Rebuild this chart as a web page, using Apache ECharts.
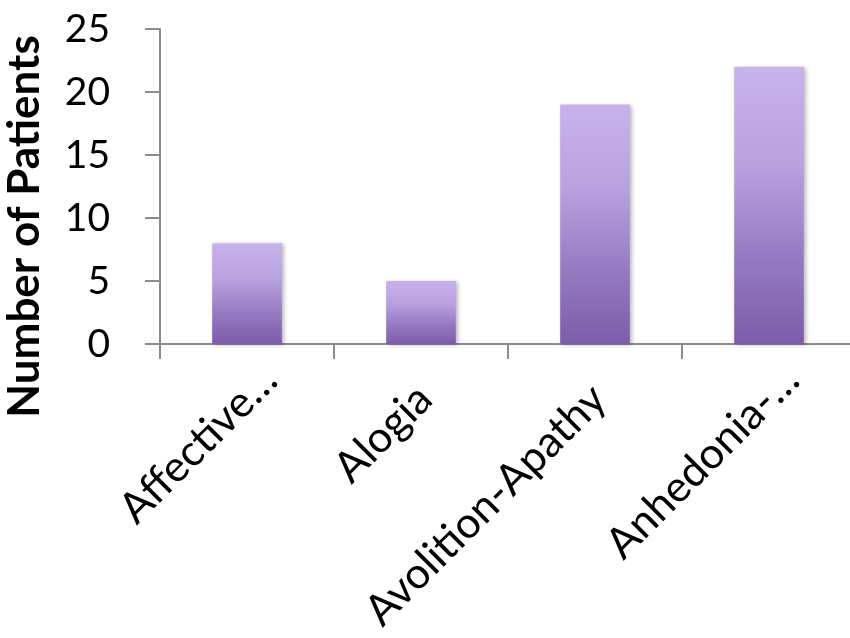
<!DOCTYPE html>
<html>
<head>
<meta charset="utf-8">
<script src="https://cdn.jsdelivr.net/npm/echarts@6/dist/echarts.min.js"></script>
<style>
  html, body { margin: 0; padding: 0; background: #fff; }
  #chart { width: 850px; height: 638px; }
</style>
</head>
<body>
<div id="chart"></div>
<script>
// Negative-symptom domains and how many patients showed each
const categories = ['Affective…', 'Alogia', 'Avolition-Apathy', 'Anhedonia-…'];
const patients = [8, 5, 19, 22];
const yMin = 0;
const yMax = 25;
const yStep = 5;

const axisGray = '#8c8c8c';
const fontFamily = 'Lato, "Open Sans", sans-serif';

const barGradient = new echarts.graphic.LinearGradient(0, 0, 0, 1, [
  { offset: 0, color: '#c8b2ec' },
  { offset: 0.35, color: '#b9a1e0' },
  { offset: 0.7, color: '#9479c1' },
  { offset: 1, color: '#7d5ca9' }
]);

const chart = echarts.init(document.getElementById('chart'), null, { renderer: 'canvas' });

chart.setOption({
  animation: false,
  backgroundColor: '#ffffff',
  grid: {
    left: 160, top: 29, width: 696, bottom: 294,
    containLabel: false,
    outerBoundsMode: 'none'
  },
  xAxis: {
    type: 'category',
    data: categories,
    axisLine: { show: true, lineStyle: { color: axisGray, width: 2 } },
    axisTick: { show: true, alignWithLabel: false, length: 15, lineStyle: { color: axisGray, width: 2 } },
    splitLine: { show: false },
    axisLabel: {
      interval: 0,
      rotate: 45,
      margin: 6,
      align: 'right',
      verticalAlign: 'top',
      lineHeight: 65,
      color: '#000',
      fontFamily: fontFamily,
      fontSize: 43,
      // truncated names sit further along their diagonal than full ones
      formatter: function (value) {
        return value.endsWith('…') ? '{t|' + value + '}' : '{t|' + value + '}{s| }';
      },
      rich: {
        t: { color: '#000', fontFamily: fontFamily, fontSize: 43, lineHeight: 65 },
        s: { width: 27, fontSize: 43, lineHeight: 65 }
      }
    }
  },
  yAxis: {
    type: 'value',
    min: yMin,
    max: yMax,
    interval: yStep,
    name: 'Number of Patients',
    nameLocation: 'middle',
    nameRotate: 90,
    nameGap: 113,
    nameTextStyle: {
      color: '#000',
      fontFamily: fontFamily,
      fontWeight: 'bold',
      fontSize: 44,
      padding: [0, 80, 0, 0]
    },
    axisLine: { show: true, lineStyle: { color: axisGray, width: 2 } },
    axisTick: { show: true, length: 15, lineStyle: { color: axisGray, width: 2 } },
    splitLine: { show: false },
    axisLabel: {
      margin: 50,
      color: '#000',
      fontFamily: fontFamily,
      fontSize: 39
    }
  },
  series: [{
    type: 'bar',
    data: patients,
    barWidth: '40%',
    itemStyle: {
      color: barGradient,
      shadowColor: 'rgba(0,0,0,0.28)',
      shadowBlur: 4,
      shadowOffsetX: 2,
      shadowOffsetY: 1
    }
  }]
});
</script>
</body>
</html>
